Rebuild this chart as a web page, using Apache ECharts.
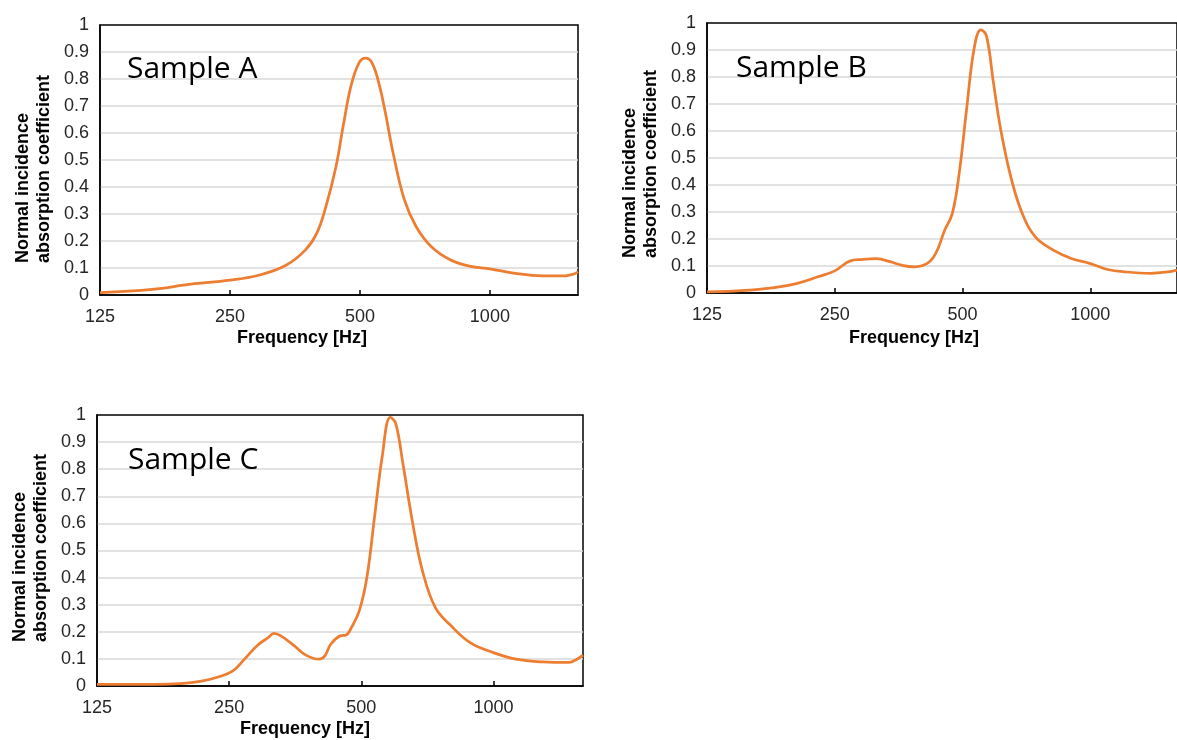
<!DOCTYPE html>
<html>
<head>
<meta charset="utf-8">
<script src="https://cdn.jsdelivr.net/npm/echarts@6/dist/echarts.min.js"></script>
<style>
html, body { margin: 0; padding: 0; background: #fff; }
#chart { width: 1177px; height: 740px; }
</style>
</head>
<body>
<div id="chart"></div>
<script>
// frequency range of every panel (Hz), octave ticks 125 / 250 / 500 / 1000
var freqMin = 125,
    freqMax = 1600;
var yTicks = [0, 0.1, 0.2, 0.3, 0.4, 0.5, 0.6, 0.7, 0.8, 0.9, 1];

// Sample A
var freqA = [125, 165, 203, 250, 293, 337, 374, 397, 417, 440, 457, 476, 497, 515, 534, 556, 573, 597, 634, 675, 732, 811, 898, 1000, 1145, 1325, 1492, 1560, 1600];
var absA = [0.009, 0.021, 0.04, 0.055, 0.074, 0.11, 0.167, 0.228, 0.327, 0.475, 0.623, 0.77, 0.858, 0.877, 0.858, 0.77, 0.673, 0.525, 0.352, 0.253, 0.179, 0.13, 0.107, 0.097, 0.08, 0.071, 0.071, 0.077, 0.086];

// Sample B
var freqB = [125, 154, 180, 203, 228, 250, 272, 289, 313, 339, 359, 384, 412, 432, 454, 473, 491, 511, 532, 552, 569, 591, 615, 652, 691, 742, 818, 902, 1000, 1098, 1209, 1385, 1520, 1600];
var absB = [0.004, 0.01, 0.02, 0.035, 0.06, 0.082, 0.119, 0.124, 0.127, 0.115, 0.103, 0.097, 0.109, 0.146, 0.233, 0.295, 0.444, 0.68, 0.903, 0.975, 0.953, 0.78, 0.605, 0.42, 0.295, 0.208, 0.159, 0.128, 0.109, 0.087, 0.078, 0.073, 0.078, 0.085];

// Sample C
var freqC = [125, 168, 197, 218, 236, 255, 271, 289, 307, 316, 328, 352, 374, 401, 413, 426, 448, 462, 475, 495, 515, 536, 558, 582, 599, 622, 655, 689, 737, 801, 885, 1000, 1125, 1296, 1487, 1550, 1600];
var absC = [0.006, 0.006, 0.01, 0.019, 0.033, 0.056, 0.099, 0.148, 0.179, 0.194, 0.185, 0.148, 0.114, 0.099, 0.111, 0.154, 0.185, 0.188, 0.216, 0.278, 0.401, 0.623, 0.846, 0.991, 0.969, 0.821, 0.6, 0.426, 0.29, 0.222, 0.16, 0.123, 0.099, 0.089, 0.087, 0.099, 0.114];

var lineColor = '#ED7D31';
var tickFont = 'Liberation Sans, Arial, sans-serif';

// octaves above 125 Hz, so the value axis behaves as a log2 axis
function toOctave(f) {
    return Math.log(f / freqMin) / Math.LN2;
}

function makeData(freqs, vals) {
    return freqs.map(function (f, i) {
        return [toOctave(f), vals[i]];
    });
}

var panels = [
    { name: 'Sample A', freqs: freqA, vals: absA, grid: { left: 100, top: 25, width: 478, height: 270 } },
    { name: 'Sample B', freqs: freqB, vals: absB, grid: { left: 707, top: 23, width: 478, height: 270 } },
    { name: 'Sample C', freqs: freqC, vals: absC, grid: { left: 97, top: 415, width: 486, height: 271 } }
];

var grids = [], xAxes = [], yAxes = [], series = [];

panels.forEach(function (p, i) {
    grids.push(Object.assign({
        show: true,
        borderColor: '#000',
        borderWidth: 1.5,
        backgroundColor: '#fff'
    }, p.grid));
    xAxes.push({
        gridIndex: i,
        type: 'value',
        min: 0,
        max: toOctave(freqMax),
        interval: 1,
        axisLine: { show: true, onZero: false, lineStyle: { color: '#000', width: 1.5 } },
        axisTick: { show: true, inside: true, length: 5, lineStyle: { color: '#000', width: 1.5 } },
        splitLine: { show: false },
        axisLabel: {
            margin: 13,
            fontSize: 18,
            fontFamily: tickFont,
            color: '#262626',
            showMaxLabel: false,
            formatter: function (v) {
                if (Math.abs(v - Math.round(v)) > 1e-6) return '';
                return String(Math.round(freqMin * Math.pow(2, Math.round(v))));
            }
        }
    });
    yAxes.push({
        gridIndex: i,
        type: 'value',
        min: yTicks[0],
        max: yTicks[yTicks.length - 1],
        interval: 0.1,
        axisLine: { show: true, lineStyle: { color: '#000', width: 1.5 } },
        axisTick: { show: false },
        splitLine: { show: true, showMinLine: false, showMaxLine: false, lineStyle: { color: '#D9D9D9', width: 1.5 } },
        axisLabel: {
            margin: 11,
            fontSize: 18,
            fontFamily: tickFont,
            color: '#262626',
            formatter: function (v) {
                return String(Math.round(v * 10) / 10);
            }
        }
    });
    series.push({
        name: p.name,
        type: 'line',
        xAxisIndex: i,
        yAxisIndex: i,
        data: makeData(p.freqs, p.vals),
        smooth: 0.4,
        showSymbol: false,
        lineStyle: { color: lineColor, width: 2.75 },
        z: 3
    });
});

// text placed where the spreadsheet put it
var yTitlePos = [[13, 263], [620, 258], [10, 642]];
var xTitlePos = [[302, 338], [914, 338], [305, 729]];
var samplePos = [[127, 69], [736, 68], [128, 460]];

var graphics = [];
panels.forEach(function (p, i) {
    graphics.push({
        type: 'text',
        x: samplePos[i][0],
        y: samplePos[i][1],
        z: 10,
        style: {
            text: p.name,
            font: '30px "Open Sans", sans-serif',
            fill: '#000',
            align: 'left',
            verticalAlign: 'middle'
        }
    });
    graphics.push({
        type: 'text',
        x: yTitlePos[i][0],
        y: yTitlePos[i][1],
        rotation: Math.PI / 2,
        z: 10,
        style: {
            text: 'Normal incidence\nabsorption coefficient',
            font: 'bold 18px ' + tickFont,
            lineHeight: 21,
            fill: '#000',
            align: 'left',
            verticalAlign: 'top'
        }
    });
    graphics.push({
        type: 'text',
        x: xTitlePos[i][0],
        y: xTitlePos[i][1],
        z: 10,
        style: {
            text: 'Frequency [Hz]',
            font: 'bold 18px ' + tickFont,
            fill: '#000',
            align: 'center',
            verticalAlign: 'middle'
        }
    });
});

var myChart = echarts.init(document.getElementById('chart'), null, { renderer: 'canvas' });
myChart.setOption({
    animation: false,
    backgroundColor: '#fff',
    grid: grids,
    xAxis: xAxes,
    yAxis: yAxes,
    series: series,
    graphic: graphics
});
</script>
</body>
</html>
